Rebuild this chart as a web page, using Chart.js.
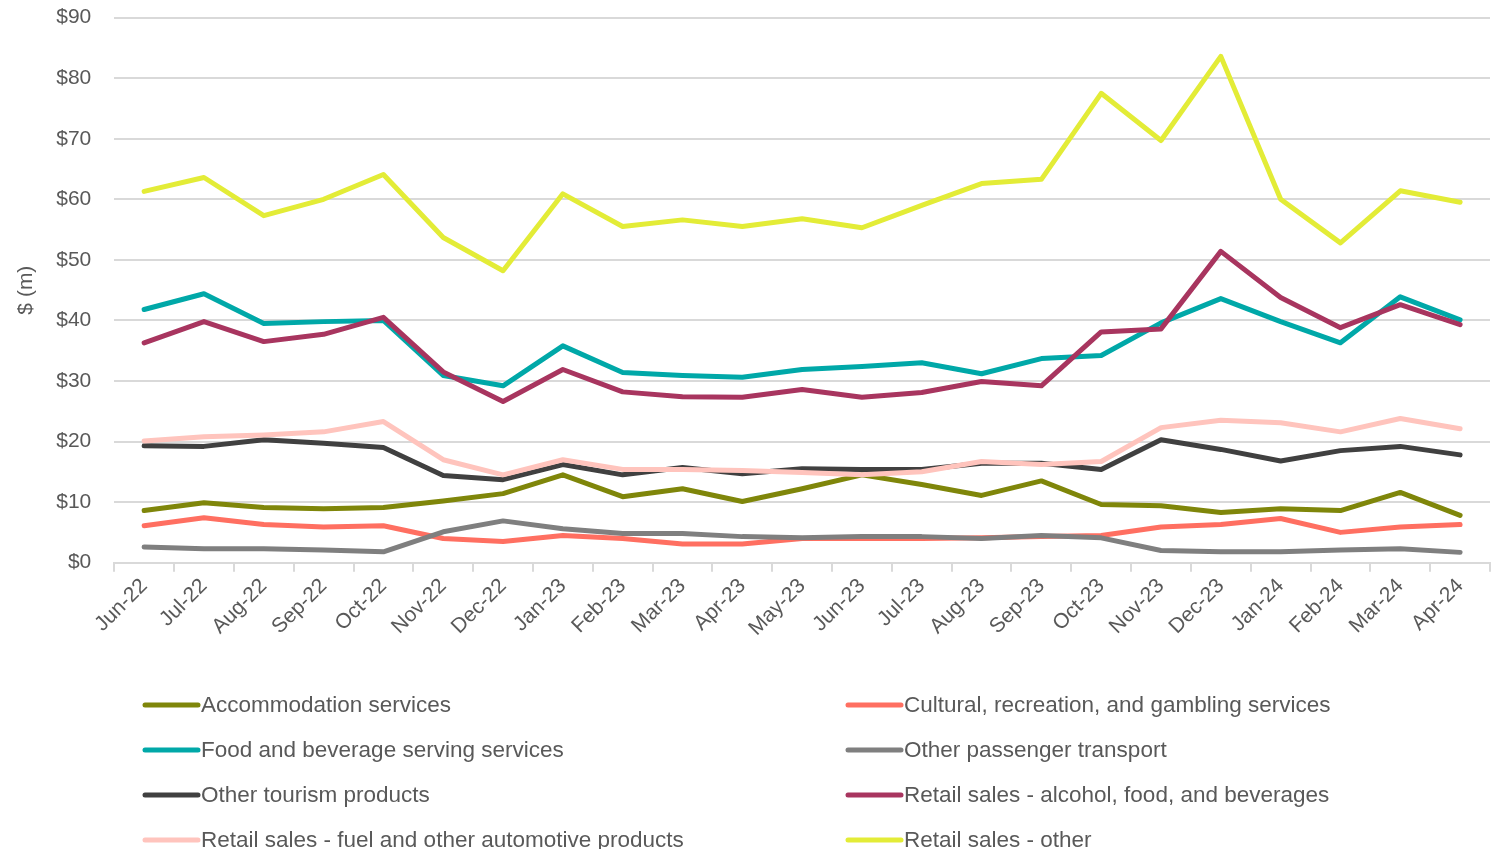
<!DOCTYPE html>
<html>
<head>
<meta charset="utf-8">
<script src="https://cdn.jsdelivr.net/npm/chart.js@4.4.0/dist/chart.umd.min.js"></script>
<style>
  html, body { margin: 0; padding: 0; background: #fff; }
  #wrap { position: relative; width: 1493px; height: 849px; overflow: hidden; }
  #chart { position: absolute; left: 0; top: -18px; }
</style>
</head>
<body>
<div id="wrap"><canvas id="chart" width="1493" height="867"></canvas></div>
<script>
const months = ['Jun-22','Jul-22','Aug-22','Sep-22','Oct-22','Nov-22','Dec-22','Jan-23','Feb-23','Mar-23','Apr-23','May-23',
  'Jun-23','Jul-23','Aug-23','Sep-23','Oct-23','Nov-23','Dec-23','Jan-24','Feb-24','Mar-24','Apr-24'];

const accommodation = [8.6, 9.9, 9.1, 8.9, 9.1, 10.2, 11.4, 14.5, 10.9, 12.2, 10.1, 12.2, 14.5, 12.9, 11.1, 13.5, 9.6, 9.4, 8.3, 8.9, 8.6, 11.6, 7.8];
const cultural = [6.1, 7.4, 6.3, 5.9, 6.1, 4.0, 3.5, 4.5, 4.0, 3.1, 3.1, 4.0, 4.0, 4.0, 4.1, 4.3, 4.5, 5.9, 6.3, 7.3, 5.0, 5.9, 6.3];
const foodBev = [41.8, 44.4, 39.5, 39.8, 40.0, 30.9, 29.2, 35.8, 31.4, 30.9, 30.6, 31.9, 32.4, 33.0, 31.2, 33.7, 34.2, 39.6, 43.6, 39.8, 36.3, 43.9, 40.1];
const passenger = [2.6, 2.3, 2.3, 2.1, 1.8, 5.1, 6.9, 5.6, 4.8, 4.8, 4.3, 4.1, 4.3, 4.3, 4.0, 4.5, 4.1, 2.0, 1.8, 1.8, 2.1, 2.3, 1.7];
const otherTourism = [19.3, 19.2, 20.3, 19.7, 19.0, 14.4, 13.7, 16.2, 14.5, 15.7, 14.7, 15.5, 15.4, 15.4, 16.4, 16.4, 15.4, 20.3, 18.7, 16.8, 18.5, 19.2, 17.8];
const retailAlcohol = [36.3, 39.8, 36.5, 37.7, 40.5, 31.5, 26.6, 31.9, 28.2, 27.4, 27.3, 28.6, 27.3, 28.1, 29.9, 29.2, 38.1, 38.6, 51.4, 43.8, 38.8, 42.6, 39.3];
const retailFuel = [20.1, 20.8, 21.1, 21.6, 23.3, 17.0, 14.5, 17.0, 15.4, 15.4, 15.2, 14.9, 14.5, 15.0, 16.7, 16.2, 16.7, 22.3, 23.5, 23.1, 21.6, 23.8, 22.1];
const retailOther = [61.3, 63.6, 57.3, 60.0, 64.1, 53.7, 48.2, 60.9, 55.5, 56.6, 55.5, 56.8, 55.3, 59.0, 62.6, 63.3, 77.5, 69.7, 83.6, 60.0, 52.8, 61.4, 59.5];

const seriesNames = ['Accommodation services', 'Cultural, recreation, and gambling services',
  'Food and beverage serving services', 'Other passenger transport', 'Other tourism products',
  'Retail sales - alcohol, food, and beverages', 'Retail sales - fuel and other automotive products',
  'Retail sales - other'];
const seriesData = [accommodation, cultural, foodBev, passenger, otherTourism, retailAlcohol, retailFuel, retailOther];
const colors = ['#7F860A', '#FF6F61', '#00A8A8', '#7F7F7F', '#404040', '#A8355F', '#FFC4BD', '#E3EC37'];

const FONT = 'Liberation Sans, Arial, sans-serif';
const TEXT = '#595959';
const GRID = '#d9d9d9';

// legend in two columns, drawn under the axis labels (canvas is shifted up 18px)
const legendPlugin = {
  id: 'twoColLegend',
  afterDraw(chart) {
    const ctx = chart.ctx;
    const cols = [143, 846];
    const rows = [723, 768, 813, 858];
    ctx.save();
    ctx.font = '22.5px ' + FONT;
    ctx.textBaseline = 'middle';
    ctx.fillStyle = TEXT;
    chart.data.datasets.forEach((ds, i) => {
      const x = cols[i % 2];
      const y = rows[Math.floor(i / 2)];
      ctx.strokeStyle = ds.borderColor;
      ctx.lineWidth = 5;
      ctx.lineCap = 'round';
      ctx.beginPath();
      ctx.moveTo(x + 2, y);
      ctx.lineTo(x + 55, y);
      ctx.stroke();
      ctx.fillText(ds.label, x + 58, y + 1);
    });
    ctx.restore();
  }
};

new Chart(document.getElementById('chart'), {
  type: 'line',
  data: {
    labels: months,
    datasets: seriesNames.map((name, i) => ({
      label: name,
      data: seriesData[i],
      borderColor: colors[i],
      backgroundColor: colors[i],
      borderWidth: 5,
      pointRadius: 0,
      tension: 0,
      borderCapStyle: 'round',
      borderJoinStyle: 'round',
      order: seriesNames.length - i
    }))
  },
  options: {
    responsive: false,
    animation: false,
    layout: { padding: { top: 10, right: 3, bottom: 206, left: 0 } },
    plugins: {
      legend: { display: false },
      tooltip: { enabled: false }
    },
    scales: {
      x: {
        offset: true,
        grid: { offset: true, drawOnChartArea: false, drawTicks: true, tickLength: 9, color: GRID, lineWidth: 2 },
        border: { color: GRID, width: 2 },
        ticks: { color: TEXT, font: { family: FONT, size: 21 }, minRotation: 45, maxRotation: 45, padding: 2 }
      },
      y: {
        min: 0,
        max: 90,
        grid: { color: GRID, lineWidth: 2, drawTicks: false },
        border: { display: false },
        ticks: {
          stepSize: 10,
          color: TEXT,
          font: { family: FONT, size: 21 },
          padding: 23,
          callback: v => '$' + v
        },
        title: { display: true, text: '$ (m)', color: TEXT, font: { family: FONT, size: 21 }, padding: { top: 14, bottom: -6 } }
      }
    }
  },
  plugins: [legendPlugin]
});
</script>
</body>
</html>
